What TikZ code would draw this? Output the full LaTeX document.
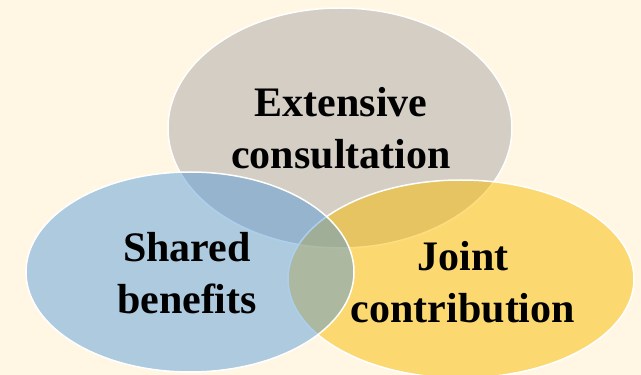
\documentclass[tikz,border=0pt]{standalone}
\usepackage{fontspec}
\setmainfont{Liberation Serif}
\usetikzlibrary{shapes.geometric}
\definecolor{paper}{RGB}{255,246,228}
\definecolor{stone}{RGB}{170,167,168}
\definecolor{sky}{RGB}{75,149,219}
\definecolor{sun}{RGB}{251,188,0}
\begin{document}
\begin{tikzpicture}[x=1pt,y=1pt,
  set node/.style={ellipse,draw=white,line width=1.5pt,inner sep=0pt},
  word node/.style={align=center,text=black,font=\fontsize{42}{51.5}\selectfont\bfseries}]
  \path[use as bounding box,fill=paper] (0,0) rectangle (641,375);
  \node[set node,fill=stone,fill opacity=0.5,minimum width=344,minimum height=240] (consult) at (340,247){};
  \node[set node,fill=sun,fill opacity=0.5,minimum width=346,minimum height=198] (contrib) at (461,96){};
  \node[set node,fill=sky,fill opacity=0.45,minimum width=328,minimum height=200] (benefit) at (190,103){};
  \node[word node] (consult text) at (341,247){Extensive\\consultation};
  \node[word node] (benefit text) at (187,102){Shared\\benefits};
  \node[word node] (contrib text) at (463,93){Joint\\contribution};
\end{tikzpicture}
\end{document}
